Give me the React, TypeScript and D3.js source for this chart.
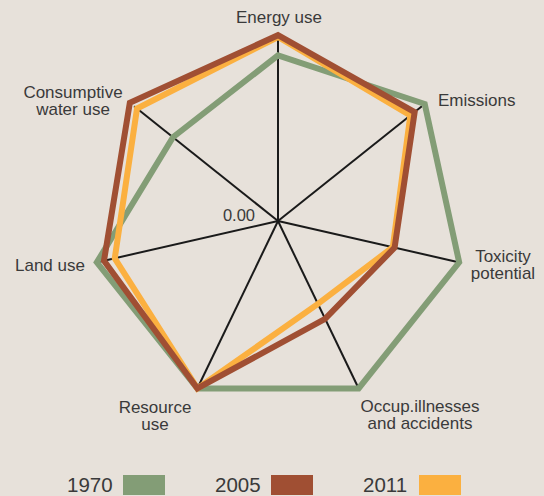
import { useEffect, useRef } from "react"
import * as d3 from "d3"

const axes = [
  ["Energy use"],
  ["Emissions"],
  ["Toxicity", "potential"],
  ["Occup.illnesses", "and accidents"],
  ["Resource", "use"],
  ["Land use"],
  ["Consumptive", "water use"],
]
const years = ["1970", "2005", "2011"]
const v1970 = [0.9, 1.02, 1.01, 1.01, 1.01, 1.01, 0.73]
const v2005 = [1.01, 0.95, 0.65, 0.59, 1.01, 0.97, 1.03]
const v2011 = [1.0, 0.92, 0.64, 0.5, 1.01, 0.91, 0.98]
const colors = ["#839d76", "#a04f33", "#fbb040"]

const W = 544
const H = 496
const cx = 278
const cy = 221
const R = 184

export default function App() {
  const svgRef = useRef<SVGSVGElement>(null)

  useEffect(() => {
    const svg = d3.select(svgRef.current)
    svg.selectAll("*").remove()

    svg.append("rect").attr("width", W).attr("height", H).attr("fill", "#e7e1da")

    const r = d3.scaleLinear().domain([0, 1]).range([0, R])
    const angle = (i: number) => (i * 2 * Math.PI) / axes.length

    const g = svg.append("g").attr("transform", `translate(${cx},${cy})`)

    // spokes
    g.selectAll("line.spoke")
      .data(axes)
      .join("line")
      .attr("class", "spoke")
      .attr("x1", 0)
      .attr("y1", 0)
      .attr("x2", (_, i) => Math.sin(angle(i)) * r(1))
      .attr("y2", (_, i) => -Math.cos(angle(i)) * r(1))
      .attr("stroke", "#1a1a1a")
      .attr("stroke-width", 2)

    const line = d3.lineRadial<number>()
      .angle((_, i) => angle(i))
      .radius(d => r(d))
      .curve(d3.curveLinearClosed)

    // draw order: green, orange, brown on top
    const series = [
      { vals: v1970, color: colors[0] },
      { vals: v2011, color: colors[2] },
      { vals: v2005, color: colors[1] },
    ]
    series.forEach(s => {
      g.append("path")
        .attr("d", line(s.vals))
        .attr("fill", "none")
        .attr("stroke", s.color)
        .attr("stroke-width", 6)
        .attr("stroke-linejoin", "miter")
    })

    const font = "'Liberation Sans', Arial, sans-serif"
    const txt = "#3a3a3a"

    g.append("text")
      .attr("x", -23)
      .attr("y", 0)
      .attr("text-anchor", "end")
      .attr("font-family", font)
      .attr("font-size", 16.5)
      .attr("fill", txt)
      .text("0.00")

    // axis labels
    const labelPos: [number, number, string][] = [
      [1, -198, "middle"],
      [160, -115, "start"],
      [225, 41, "middle"],
      [142, 191, "middle"],
      [-123, 192, "middle"],
      [-263, 50, "start"],
      [-205, -123, "middle"],
    ]
    axes.forEach((lines, i) => {
      const [x, y, anchor] = labelPos[i]
      const t = g.append("text")
        .attr("x", x)
        .attr("y", y)
        .attr("text-anchor", anchor)
        .attr("font-family", font)
        .attr("font-size", 17)
        .attr("fill", txt)
      lines.forEach((l, j) => {
        t.append("tspan").attr("x", x).attr("dy", j === 0 ? 0 : 16.5).text(l)
      })
    })

    // legend
    const legX = [67, 215, 363]
    const lg = svg.append("g")
    years.forEach((y, i) => {
      lg.append("text")
        .attr("x", legX[i])
        .attr("y", 492)
        .attr("font-family", font)
        .attr("font-size", 20.5)
        .attr("fill", txt)
        .text(y)
      lg.append("rect")
        .attr("x", legX[i] + 56)
        .attr("y", 475)
        .attr("width", 42)
        .attr("height", 20)
        .attr("fill", colors[i])
    })
  }, [])

  return (
    <svg
      ref={svgRef}
      width={W}
      height={H}
      style={{ position: "absolute", left: 0, top: 0 }}
    />
  )
}
